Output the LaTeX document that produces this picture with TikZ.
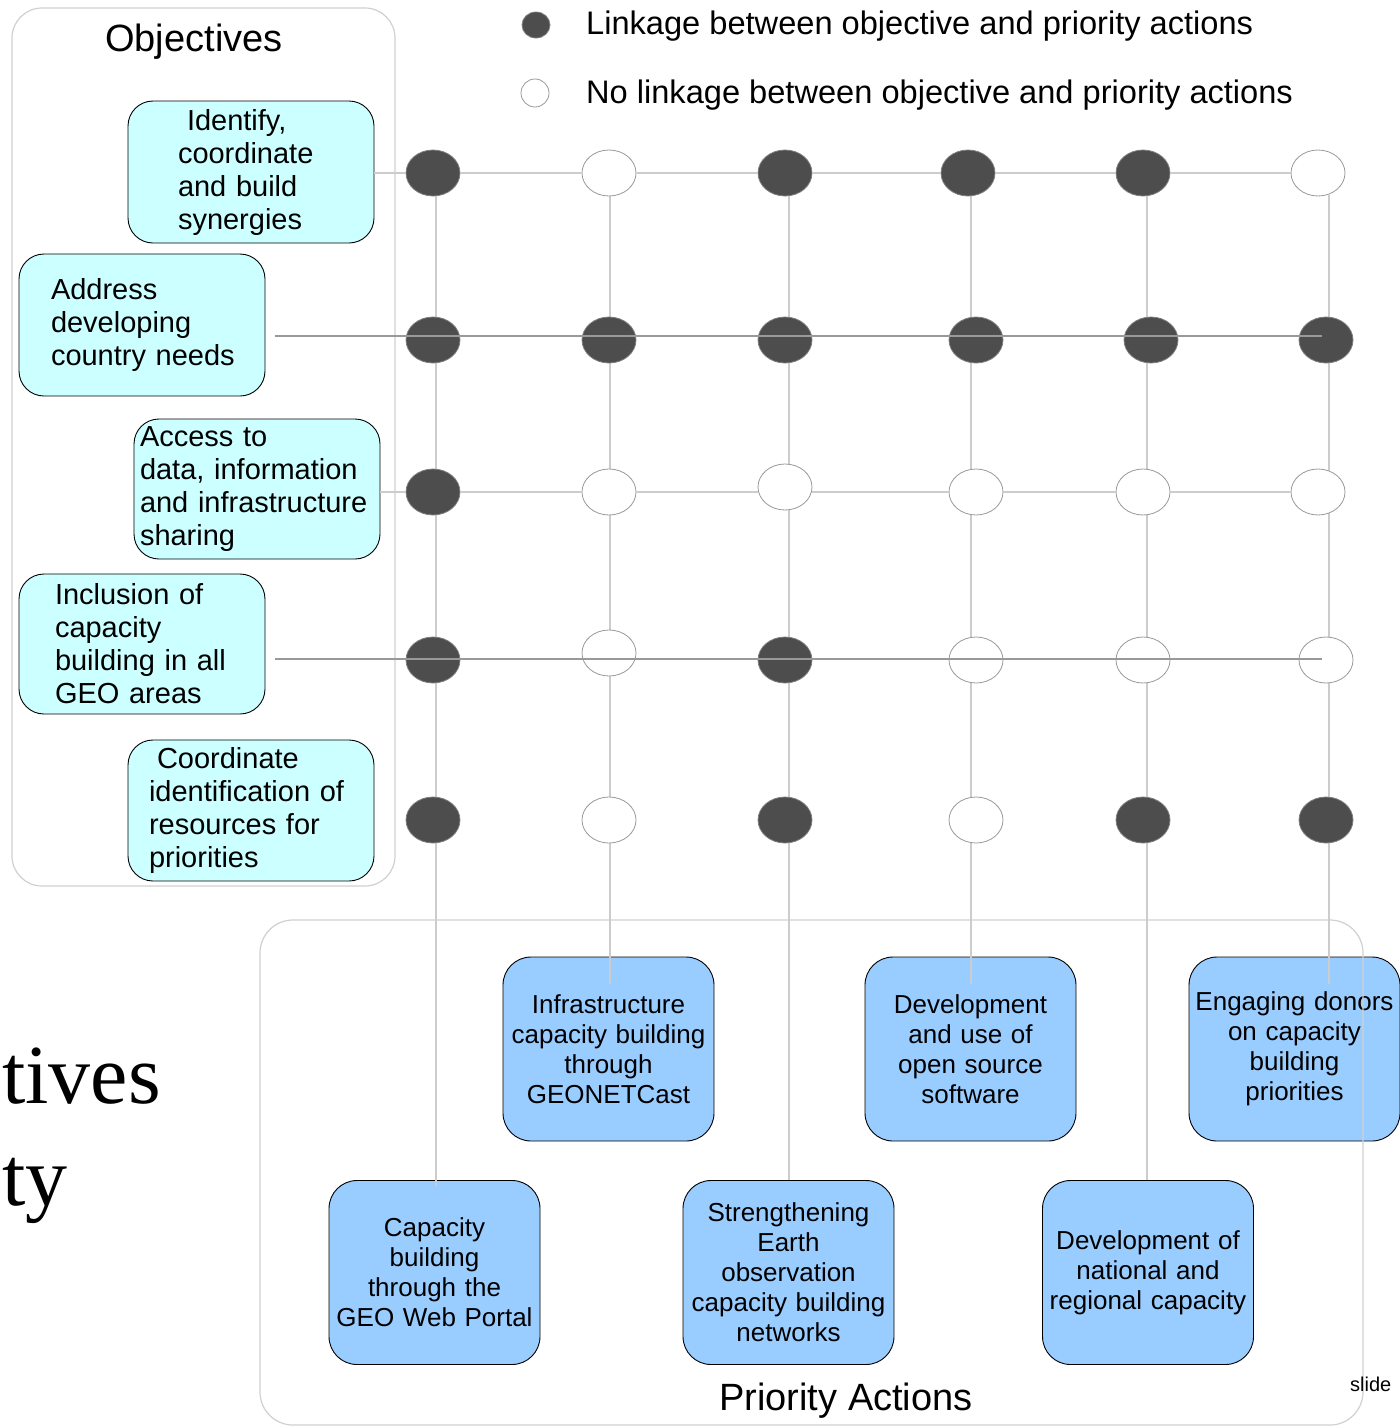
\documentclass[tikz,border=0pt]{standalone}
\usepackage{fontspec}
\setmainfont{Liberation Sans}
\newfontfamily\timesx{Liberation Serif}
\usetikzlibrary{shapes.geometric}
\definecolor{objfill}{HTML}{CCFFFF}
\definecolor{actfill}{HTML}{99CCFF}
\definecolor{dotfill}{HTML}{4D4D4D}
\definecolor{dotedge}{HTML}{7F7F7F}
\definecolor{lightline}{HTML}{CCCCCC}
\definecolor{darkline}{HTML}{999999}
\definecolor{frameline}{HTML}{D0D0D0}
\begin{document}
\begin{tikzpicture}[x=1pt,y=-1pt,
  objbox/.style={draw=black, line width=0.9pt, fill=objfill, rounded corners=25pt,
    align=left, inner ysep=0pt, font=\fontsize{29}{33}\selectfont},
  actbox/.style={draw=black, line width=0.9pt, fill=actfill, rounded corners=28pt,
    align=center, text width=200pt, inner xsep=5.5pt, inner ysep=0pt,
    minimum height=184pt, font=\fontsize{26}{30}\selectfont},
  dotf/.style={ellipse, fill=dotfill, draw=dotedge, line width=0.8pt,
    minimum width=54pt, minimum height=46pt, inner sep=0pt},
  doto/.style={ellipse, fill=white, draw=darkline, line width=0.8pt,
    minimum width=54pt, minimum height=46pt, inner sep=0pt},
  lline/.style={draw=lightline, line width=1.4pt},
  dline/.style={draw=darkline, line width=1.4pt},
  frame/.style={draw=frameline, line width=1.2pt}
]
\useasboundingbox (0,0) rectangle (1400,1427);

% Objectives frame
\node[frame, rounded corners=30pt, minimum width=383pt, minimum height=878pt, inner sep=0pt] (objframe) at (203.5,447) {};
\node[font=\fontsize{38}{44}\selectfont, anchor=base] (objtitle) at (194,51) {Objectives};

% Legend
\node[dotf, minimum width=28pt, minimum height=26pt] (legf) at (536,25) {};
\node[doto, minimum width=28pt, minimum height=28pt] (lego) at (535,93) {};
\node[anchor=base west, inner sep=0pt, font=\fontsize{32.6}{36}\selectfont] (legft) at (586,34) {Linkage between objective and priority actions};
\node[anchor=base west, inner sep=0pt, font=\fontsize{32.6}{36}\selectfont] (legot) at (586,103) {No linkage between objective and priority actions};

% Action boxes
\node[actbox] (A) at (608.5,1049) {Infrastructure\\capacity building\\through\\GEONETCast};
\node[actbox] (B) at (970.5,1049) {Development\\and use of\\open source\\software};
\node[actbox] (C) at (1294.5,1049) {Engaging donors\\on capacity\\building\\priorities};
\node[actbox] (D) at (434.5,1272.5) {Capacity\\building\\through the\\GEO Web Portal};
\node[actbox] (E) at (788.5,1272.5) {Strengthening\\Earth\\observation\\capacity building\\networks};
\node[actbox] (F) at (1148,1272.5) {Development of\\national and\\regional capacity};

% Priority Actions frame
\node[frame, rounded corners=33pt, minimum width=1103pt, minimum height=505pt, inner sep=0pt] (actframe) at (811.5,1172.5) {};
\node[font=\fontsize{38}{44}\selectfont, anchor=base] (acttitle) at (846,1410) {Priority Actions};

% Objective boxes
\node[objbox, text width=146pt, inner xsep=50pt, minimum height=142pt] (o1) at (251,172)
  {\mbox{\hspace{9pt}Identify,}\\\mbox{coordinate}\\\mbox{and build}\\\mbox{synergies}};
\node[objbox, text width=182pt, inner xsep=32pt, minimum height=142pt] (o2) at (142,325)
  {\mbox{Address}\\\mbox{developing}\\\mbox{country needs}};
\node[objbox, text width=234pt, inner xsep=6pt, minimum height=140pt] (o3) at (257,489)
  {\mbox{Access to}\\\mbox{data, information}\\\mbox{and infrastructure}\\\mbox{sharing}};
\node[objbox, text width=174pt, inner xsep=36pt, minimum height=140pt] (o4) at (142,644)
  {\mbox{Inclusion of}\\\mbox{capacity}\\\mbox{building in all}\\\mbox{GEO areas}};
\node[objbox, text width=204pt, inner xsep=21pt, minimum height=141pt] (o5) at (251,810.5)
  {\mbox{\hspace{8pt}Coordinate}\\\mbox{identification of}\\\mbox{resources for}\\\mbox{priorities}};

% Vertical connector coordinates
\coordinate (t1) at (436,173);  \coordinate (b1) at (436,1186);
\coordinate (t2) at (610,173);  \coordinate (b2) at (610,984);
\coordinate (t3) at (789,173);  \coordinate (b3) at (789,1180);
\coordinate (t4) at (971,173);  \coordinate (b4) at (971,984);
\coordinate (t5) at (1147,173); \coordinate (b5) at (1147,1180);
\coordinate (t6) at (1329,195); \coordinate (b6) at (1329,984);

\draw[lline] (t1) -- (b1);
\draw[lline] (t2) -- (b2);
\draw[lline] (t3) -- (b3);
\draw[lline] (t4) -- (b4);
\draw[lline] (t5) -- (b5);
\draw[lline] (t6) -- (b6);

% Circles
\node[dotf] (c11) at (433,173) {};
\node[doto] (c12) at (609,173) {};
\node[dotf] (c13) at (785,173) {};
\node[dotf] (c14) at (968,173) {};
\node[dotf] (c15) at (1143,173) {};
\node[doto] (c16) at (1318,173) {};

\node[dotf] (c21) at (433,340) {};
\node[dotf] (c22) at (609,340) {};
\node[dotf] (c23) at (785,340) {};
\node[dotf] (c24) at (976,340) {};
\node[dotf] (c25) at (1151,340) {};
\node[dotf] (c26) at (1326,340) {};

\node[dotf] (c31) at (433,492) {};
\node[doto] (c32) at (609,492) {};
\node[doto] (c33) at (785,487) {};
\node[doto] (c34) at (976,492) {};
\node[doto] (c35) at (1143,492) {};
\node[doto] (c36) at (1318,492) {};

\node[dotf] (c41) at (433,660) {};
\node[doto] (c42) at (609,653) {};
\node[dotf] (c43) at (785,660) {};
\node[doto] (c44) at (976,660) {};
\node[doto] (c45) at (1143,660) {};
\node[doto] (c46) at (1326,660) {};

\node[dotf] (c51) at (433,820) {};
\node[doto] (c52) at (609,820) {};
\node[dotf] (c53) at (785,820) {};
\node[doto] (c54) at (976,820) {};
\node[dotf] (c55) at (1143,820) {};
\node[dotf] (c56) at (1326,820) {};

% Horizontal connectors
\draw[lline] ([yshift=-1pt]o1.east) -- (c11.west);
\draw[lline] (c11.east) -- (c12.west);
\draw[lline] (c12.east) -- (c13.west);
\draw[lline] (c13.east) -- (c14.west);
\draw[lline] (c14.east) -- (c15.west);
\draw[lline] (c15.east) -- (c16.west);
\draw[lline] ([yshift=-3pt]o3.east) -- (c31.west);
\draw[lline] (c31.east) -- (c32.west);
\draw[lline] (c32.east) -- (c33.west |- c32.east);
\draw[lline] (c33.east |- c32.east) -- (c34.west);
\draw[lline] (c34.east) -- (c35.west);
\draw[lline] (c35.east) -- (c36.west);
\draw[dline] ([xshift=10pt,yshift=-11pt]o2.east) -- ([xshift=-4pt,yshift=4pt]c26.center);
\draw[dline] ([xshift=10pt,yshift=-15pt]o4.east) -- ([xshift=-4pt,yshift=1pt]c46.center);

% Stray text
\node[anchor=base west, inner sep=0pt, font=\timesx\fontsize{84}{90}\selectfont] (tives) at (2,1103) {tives};
\node[anchor=base west, inner sep=0pt, font=\timesx\fontsize{84}{90}\selectfont] (ty) at (2,1205) {ty};
\node[anchor=base west, inner sep=0pt, font=\fontsize{20}{24}\selectfont] (slide) at (1350,1391) {slide};
\end{tikzpicture}
\end{document}
